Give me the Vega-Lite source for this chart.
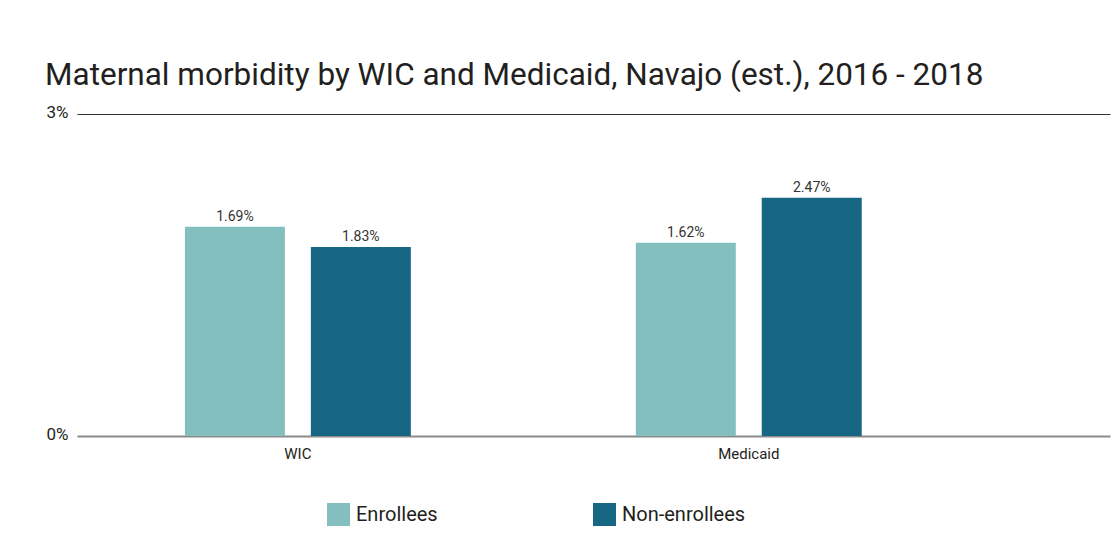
{
  "$schema": "https://vega.github.io/schema/vega-lite/v6.json",
  "width": 1033,
  "height": 322,
  "autosize": {"type": "none"},
  "padding": {"left": 77, "top": 114, "right": 7, "bottom": 105},
  "background": "white",
  "title": {
    "text": "Maternal morbidity by WIC and Medicaid, Navajo (est.), 2016 - 2018",
    "anchor": "start",
    "frame": "group",
    "dx": -32,
    "offset": 12,
    "font": "Roboto",
    "fontSize": 31.5,
    "fontWeight": "normal",
    "color": "#231f20"
  },
  "data": {
    "values": [
      {"program": "WIC", "group": "Enrollees", "value": 1.95, "label": "1.69%"},
      {"program": "WIC", "group": "Non-enrollees", "value": 1.76, "label": "1.83%"},
      {"program": "Medicaid", "group": "Enrollees", "value": 1.80, "label": "1.62%"},
      {"program": "Medicaid", "group": "Non-enrollees", "value": 2.22, "label": "2.47%"}
    ]
  },
  "encoding": {
    "x": {
      "field": "program",
      "type": "nominal",
      "sort": ["WIC", "Medicaid"],
      "scale": {"paddingInner": 0.499, "paddingOuter": 0.395, "align": 0.303},
      "axis": {
        "title": null,
        "labelAngle": 0,
        "domain": false,
        "ticks": false,
        "labelPadding": 10,
        "labelFontSize": 15,
        "labelColor": "#231f20",
        "labelFont": "Roboto"
      }
    },
    "xOffset": {
      "field": "group",
      "type": "nominal",
      "sort": ["Enrollees", "Non-enrollees"],
      "scale": {"paddingInner": 0.206, "paddingOuter": 0}
    },
    "y": {
      "field": "value",
      "type": "quantitative",
      "scale": {"domain": [0, 3], "nice": false},
      "axis": {
        "title": null,
        "values": [0, 3],
        "labelExpr": "datum.value + '%'",
        "domain": false,
        "ticks": false,
        "labelPadding": 9,
        "labelFontSize": 17,
        "labelColor": "#231f20",
        "labelBaseline": "middle",
        "labelOffset": -2,
        "labelFont": "Roboto",
        "grid": true,
        "gridColor": {"condition": {"test": "datum.value === 0", "value": "#8a8a8a"}, "value": "#333333"},
        "gridWidth": {"condition": {"test": "datum.value === 0", "value": 2}, "value": 1}
      }
    }
  },
  "layer": [
    {
      "mark": {"type": "bar"},
      "encoding": {
        "color": {
          "field": "group",
          "type": "nominal",
          "sort": ["Enrollees", "Non-enrollees"],
          "scale": {"domain": ["Enrollees", "Non-enrollees"], "range": ["#84bfbf", "#176683"]},
          "legend": {
            "title": null,
            "orient": "none",
            "legendX": 250,
            "legendY": 389,
            "direction": "horizontal",
            "columns": 2,
            "columnPadding": 155,
            "symbolType": "square",
            "symbolSize": 529,
            "symbolStrokeWidth": 0,
            "symbolOpacity": 1,
            "labelFontSize": 20,
            "labelOffset": 6,
            "labelColor": "#231f20",
            "labelFont": "Roboto"
          }
        }
      }
    },
    {
      "mark": {
        "type": "text",
        "baseline": "bottom",
        "dy": -3,
        "fontSize": 14,
        "color": "#333333",
        "font": "Roboto"
      },
      "encoding": {
        "text": {"field": "label"}
      }
    }
  ],
  "config": {
    "view": {"stroke": null}
  }
}
